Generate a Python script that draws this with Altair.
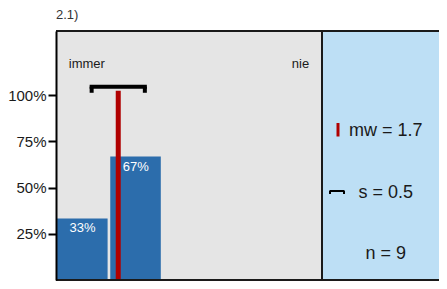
import altair as alt
import pandas as pd

# ---- data ----
categories = [1, 2, 3, 4, 5]
shares = [0.333, 0.667, 0.0, 0.0, 0.0]
scale_ends = ["immer", "nie"]
mean_value = 1.67
sd_value = 0.5
n_value = 9
stats_labels = ["mw = 1.7", "s = 0.5", "n = 9"]
tick_values = [0.25, 0.5, 0.75, 1.0]
title_text = "2.1)"

# ---- styling / layout ----
FONT = "Liberation Sans, Arial, Helvetica, sans-serif"
GREY = "#E5E5E5"
BLUE_BG = "#BDDFF5"
BAR = "#2C6DAC"
RED = "#B00000"
INK = "#1a1a1a"

W, H = 383, 249
PX_PER_CAT = 53.2
XMIN, XDIV = 0.5, 5.5
XMAX = XMIN + W / PX_PER_CAT
YMAX = H / 185.0

x_scale = alt.Scale(domain=[XMIN, XMAX], nice=False, zero=False)
y_scale = alt.Scale(domain=[0, YMAX], nice=False, zero=True)
y_axis = alt.Axis(values=tick_values, format=".0%", title=None, grid=False,
                  domainColor="black", domainWidth=2, tickColor="black",
                  tickWidth=2, tickSize=8, labelFontSize=15, labelFont=FONT,
                  labelColor=INK, labelPadding=2, zindex=1)


def X(f):
    return alt.X(f, type="quantitative", scale=x_scale, axis=None)


def Y(f):
    return alt.Y(f, type="quantitative", scale=y_scale, axis=y_axis)


# panels
panels = pd.DataFrame({
    "x0": [XMIN, XDIV], "x1": [XDIV, XMAX],
    "y0": [0, 0], "y1": [YMAX, YMAX], "fill": [GREY, BLUE_BG],
})
bg = alt.Chart(panels).mark_rect().encode(
    x=X("x0"), x2="x1", y=Y("y0"), y2="y1",
    color=alt.Color("fill:N", scale=None),
)

bars_df = pd.DataFrame({"cat": categories, "share": shares})
bars_df = bars_df[bars_df["share"] > 0]
bars = alt.Chart(bars_df).transform_calculate(
    xa="datum.cat - 0.48", xb="datum.cat + 0.47", base="0"
).mark_rect(color=BAR).encode(
    x=X("xa"), x2="xb", y=Y("base"), y2="share",
)
pct = alt.Chart(bars_df).mark_text(
    color="white", fontSize=13, font=FONT, baseline="middle", dy=10
).encode(x=X("cat"), y=Y("share"), text=alt.Text("share:Q", format=".0%"))

stat_df = pd.DataFrame({"mean": [mean_value], "sd": [sd_value]})
mean_line = alt.Chart(stat_df).transform_calculate(
    y0="0", y1="1.023"
).mark_rule(color=RED, strokeWidth=5).encode(x=X("mean"), y=Y("y0"), y2="y1")

err = alt.Chart(stat_df).transform_calculate(
    lo="datum.mean - datum.sd", hi="datum.mean + datum.sd", yb="1.045"
).mark_rule(color="black", strokeWidth=4, strokeCap="square").encode(
    x=X("lo"), x2="hi", y=Y("yb"))
caps = alt.Chart(stat_df).transform_calculate(
    lo="datum.mean - datum.sd", hi="datum.mean + datum.sd"
).transform_fold(["lo", "hi"], as_=["k", "xc"]).transform_calculate(
    ya="1.045", yb="1.012"
).mark_rule(color="black", strokeWidth=4).encode(x=X("xc"), y=Y("ya"), y2="yb")

ends_df = pd.DataFrame({
    "label": scale_ends,
    "xpos": [categories[0] - 0.26, categories[-1] + 0.26],
    "ypos": [1.166, 1.166],
})
ends_left = alt.Chart(ends_df.iloc[[0]]).mark_text(
    align="left", baseline="middle", fontSize=13, font=FONT, color=INK
).encode(x=X("xpos"), y=Y("ypos"), text="label:N")
ends_right = alt.Chart(ends_df.iloc[[1]]).mark_text(
    align="right", baseline="middle", fontSize=13, font=FONT, color=INK
).encode(x=X("xpos"), y=Y("ypos"), text="label:N")

stats_df = pd.DataFrame({
    "label": stats_labels,
    "xpos": [6.70, 6.70, 6.70],
    "ypos": [0.808, 0.470, 0.141],
})
stats = alt.Chart(stats_df).mark_text(
    align="center", baseline="middle", fontSize=18, font=FONT, color=INK
).encode(x=X("xpos"), y=Y("ypos"), text="label:N")

one = pd.DataFrame({"k": [0]})
leg_red = alt.Chart(one).mark_rule(color=RED, strokeWidth=3).encode(
    x=alt.value(282), y=alt.value(92), y2=alt.value(105.5))
leg_br_h = alt.Chart(one).mark_rule(color="black", strokeWidth=2).encode(
    x=alt.value(274), x2=alt.value(288), y=alt.value(160))
leg_br_v = alt.Chart(pd.DataFrame({"px": [274, 288]})).mark_rule(
    color="black", strokeWidth=2).encode(
    x=alt.X("px:Q", scale=None), y=alt.value(159.5), y2=alt.value(163))

frame_h = alt.Chart(pd.DataFrame({"py": [0, H]})).mark_rule(
    color=INK, strokeWidth=2).encode(
    x=alt.value(0), x2=alt.value(W), y=alt.Y("py:Q", scale=None))
divider = alt.Chart(one).mark_rule(color=INK, strokeWidth=2).encode(
    x=alt.value(266), y=alt.value(0), y2=alt.value(H))

title = alt.Chart(one).mark_text(
    align="left", baseline="middle", fontSize=13, font=FONT, color="#333"
).encode(x=alt.value(0), y=alt.value(-16.3), text=alt.value(title_text))

chart = alt.layer(
    bg, bars, pct, mean_line, err, caps, ends_left, ends_right, stats,
    leg_red, leg_br_h, leg_br_v, frame_h, divider, title,
).properties(
    width=W, height=H,
    autosize=alt.AutoSizeParams(type="none"),
    padding={"left": 48, "top": 23, "right": 0, "bottom": 1},
).configure_view(strokeWidth=0)

chart.save("out.html", embed_options={"renderer": "svg", "actions": False})
